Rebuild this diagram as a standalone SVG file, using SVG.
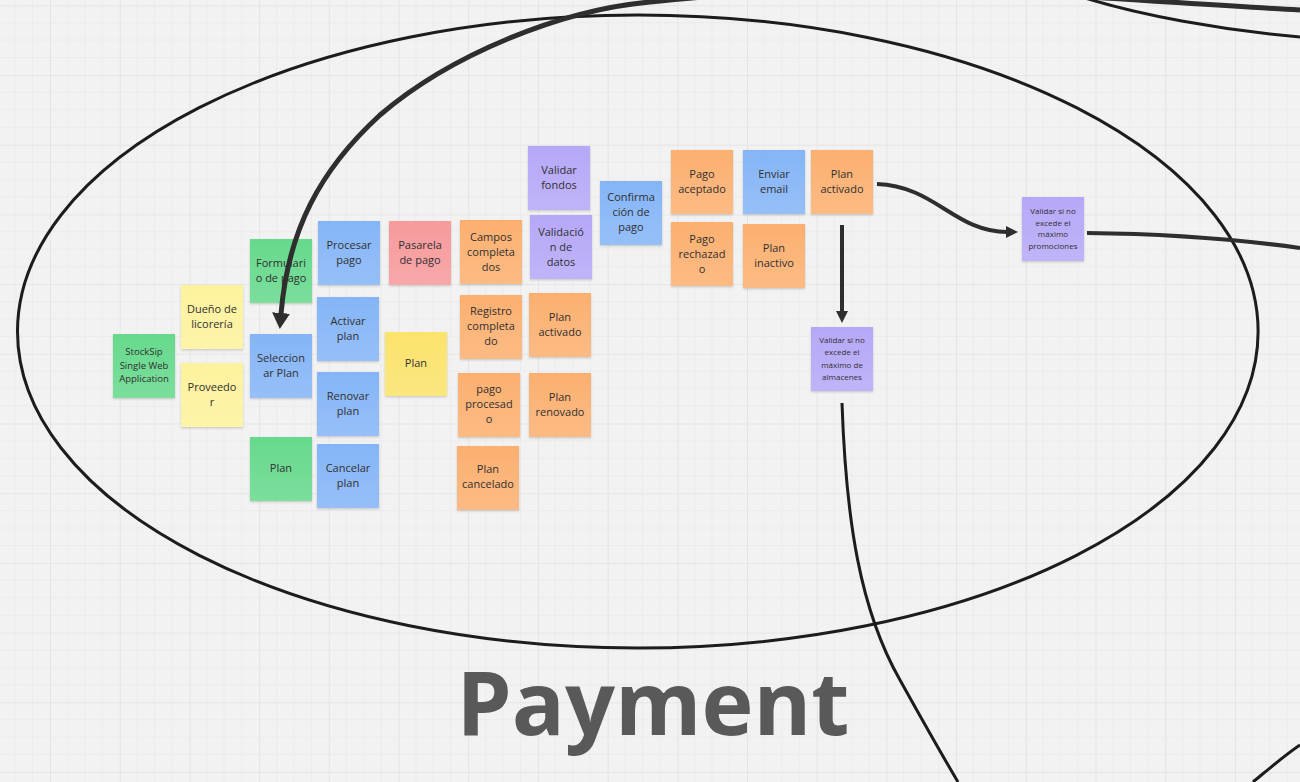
<svg xmlns="http://www.w3.org/2000/svg" width="1300" height="782" viewBox="0 0 1300 782">
<style>
.bg{fill:#f2f2f2}
.note{filter:url(#sh)}
.green{fill:#66d98c}
.yel{fill:#fdf29c}
.yel2{fill:#fbe36c}
.blue{fill:#85b5f7}
.pink{fill:#f79a9c}
.orange{fill:#fcb06f}
.purple{fill:#b6a8f8}
.sheen{fill:url(#sheen)}
.t{font-family:"Open Sans","Noto Sans","Liberation Sans",sans-serif;font-size:11px;fill:#303030;text-anchor:middle;dominant-baseline:central;transform:translateY(-1.5px)}
.m{font-size:9.5px}
.s{font-size:8px}
.ell{fill:none;stroke:#1c1c1c;stroke-width:3}
.c{fill:none;stroke:#2e2e2e;stroke-width:4}
.cL{fill:none;stroke:#2e2e2e;stroke-width:5}
.cT{fill:none;stroke:#1c1c1c;stroke-width:3}
.title{font-family:"Open Sans","Noto Sans","Liberation Sans",sans-serif;font-size:88px;font-weight:700;fill:#595959;text-anchor:middle}
</style>
<defs>
<pattern id="grid" patternUnits="userSpaceOnUse" x="50" y="5.3" width="69.7" height="69.7">
<path d="M17.425,0V69.7M34.85,0V69.7M52.275,0V69.7M0,17.425H69.7M0,34.85H69.7M0,52.275H69.7" stroke="#ebebeb" stroke-width="1" fill="none"/>
<path d="M0,0V69.7M0,0H69.7" stroke="#e2e2e2" stroke-width="1.6" fill="none"/>
</pattern>
<linearGradient id="sheen" x1="0" y1="0" x2="0" y2="1">
<stop offset="0" stop-color="#ffffff" stop-opacity="0"/>
<stop offset="1" stop-color="#ffffff" stop-opacity="0.14"/>
</linearGradient>
<filter id="sh" x="-10%" y="-10%" width="120%" height="125%">
<feDropShadow dx="0" dy="1.2" stdDeviation="0.9" flood-color="#000" flood-opacity="0.18"/>
</filter>
<marker id="ah" viewBox="0 0 12 12" refX="1" refY="6" markerWidth="12" markerHeight="12" markerUnits="userSpaceOnUse" orient="auto">
<path d="M0,0 L12,6 L0,12 z" fill="#2e2e2e"/>
</marker>
<marker id="ahL" viewBox="0 0 16 18" refX="1" refY="9" markerWidth="16" markerHeight="18" markerUnits="userSpaceOnUse" orient="auto">
<path d="M0,0 L16,9 L0,18 z" fill="#2e2e2e"/>
</marker>
</defs>
<rect class="bg" x="0" y="0" width="1300" height="782"/>
<rect x="0" y="0" width="1300" height="782" fill="url(#grid)"/>

<g id="frame">
<ellipse class="ell" cx="637.8" cy="331.5" rx="620.3" ry="316.5"/>
<text class="title" x="653" y="735">Payment</text>
</g>

<g id="n-stocksip"><rect class="note green" x="113" y="334" width="62" height="64"/><rect class="sheen" x="113" y="334" width="62" height="64"/>
<text class="t m"><tspan x="144" y="352.7">StockSip</tspan><tspan x="144" y="366">Single Web</tspan><tspan x="144" y="379.3">Application</tspan></text></g>

<g id="n-dueno"><rect class="note yel" x="181" y="285" width="62" height="64"/><rect class="sheen" x="181" y="285" width="62" height="64"/>
<text class="t"><tspan x="212" y="309.5">Dueño de</tspan><tspan x="212" y="324.5">licorería</tspan></text></g>

<g id="n-proveedor"><rect class="note yel" x="181" y="363" width="62" height="64"/><rect class="sheen" x="181" y="363" width="62" height="64"/>
<text class="t"><tspan x="212" y="387.5">Proveedo</tspan><tspan x="212" y="402.5">r</tspan></text></g>

<g id="n-formulario"><rect class="note green" x="250" y="239" width="62" height="64"/><rect class="sheen" x="250" y="239" width="62" height="64"/>
<text class="t"><tspan x="281" y="263.5">Formulari</tspan><tspan x="281" y="278.5">o de pago</tspan></text></g>

<g id="n-seleccionar"><rect class="note blue" x="250" y="334" width="62" height="64"/><rect class="sheen" x="250" y="334" width="62" height="64"/>
<text class="t"><tspan x="281" y="358.5">Seleccion</tspan><tspan x="281" y="373.5">ar Plan</tspan></text></g>

<g id="n-plan-green"><rect class="note green" x="250" y="437" width="62" height="64"/><rect class="sheen" x="250" y="437" width="62" height="64"/>
<text class="t" x="281" y="469">Plan</text></g>

<g id="n-procesar"><rect class="note blue" x="318" y="221" width="62" height="64"/><rect class="sheen" x="318" y="221" width="62" height="64"/>
<text class="t"><tspan x="349" y="245.5">Procesar</tspan><tspan x="349" y="260.5">pago</tspan></text></g>

<g id="n-activar"><rect class="note blue" x="317" y="297" width="62" height="64"/><rect class="sheen" x="317" y="297" width="62" height="64"/>
<text class="t"><tspan x="348" y="321.5">Activar</tspan><tspan x="348" y="336.5">plan</tspan></text></g>

<g id="n-renovar"><rect class="note blue" x="317" y="372" width="62" height="64"/><rect class="sheen" x="317" y="372" width="62" height="64"/>
<text class="t"><tspan x="348" y="396.5">Renovar</tspan><tspan x="348" y="411.5">plan</tspan></text></g>

<g id="n-cancelar"><rect class="note blue" x="317" y="444" width="62" height="64"/><rect class="sheen" x="317" y="444" width="62" height="64"/>
<text class="t"><tspan x="348" y="468.5">Cancelar</tspan><tspan x="348" y="483.5">plan</tspan></text></g>

<g id="n-pasarela"><rect class="note pink" x="389" y="221" width="62" height="64"/><rect class="sheen" x="389" y="221" width="62" height="64"/>
<text class="t"><tspan x="420" y="245.5">Pasarela</tspan><tspan x="420" y="260.5">de pago</tspan></text></g>

<g id="n-plan-yellow"><rect class="note yel2" x="385" y="332" width="62" height="64"/><rect class="sheen" x="385" y="332" width="62" height="64"/>
<text class="t" x="416" y="363.5">Plan</text></g>

<g id="n-campos"><rect class="note orange" x="460" y="220" width="62" height="64"/><rect class="sheen" x="460" y="220" width="62" height="64"/>
<text class="t"><tspan x="491" y="237">Campos</tspan><tspan x="491" y="252">completa</tspan><tspan x="491" y="267">dos</tspan></text></g>

<g id="n-registro"><rect class="note orange" x="460" y="295" width="62" height="64"/><rect class="sheen" x="460" y="295" width="62" height="64"/>
<text class="t"><tspan x="491" y="311.5">Registro</tspan><tspan x="491" y="326.5">completa</tspan><tspan x="491" y="341.5">do</tspan></text></g>

<g id="n-pago-procesado"><rect class="note orange" x="458" y="373" width="62" height="64"/><rect class="sheen" x="458" y="373" width="62" height="64"/>
<text class="t"><tspan x="489" y="389.5">pago</tspan><tspan x="489" y="404.5">procesad</tspan><tspan x="489" y="419.5">o</tspan></text></g>

<g id="n-plan-cancelado"><rect class="note orange" x="457" y="446" width="62" height="64"/><rect class="sheen" x="457" y="446" width="62" height="64"/>
<text class="t"><tspan x="488" y="469.5">Plan</tspan><tspan x="488" y="484.5">cancelado</tspan></text></g>

<g id="n-validar-fondos"><rect class="note purple" x="528" y="146" width="62" height="64"/><rect class="sheen" x="528" y="146" width="62" height="64"/>
<text class="t"><tspan x="559" y="170.5">Validar</tspan><tspan x="559" y="185">fondos</tspan></text></g>

<g id="n-validacion"><rect class="note purple" x="530" y="215" width="62" height="64"/><rect class="sheen" x="530" y="215" width="62" height="64"/>
<text class="t"><tspan x="561" y="232">Validació</tspan><tspan x="561" y="247">n de</tspan><tspan x="561" y="262">datos</tspan></text></g>

<g id="n-plan-activado-1"><rect class="note orange" x="529" y="293" width="62" height="64"/><rect class="sheen" x="529" y="293" width="62" height="64"/>
<text class="t"><tspan x="560" y="317">Plan</tspan><tspan x="560" y="332">activado</tspan></text></g>

<g id="n-plan-renovado"><rect class="note orange" x="529" y="373" width="62" height="64"/><rect class="sheen" x="529" y="373" width="62" height="64"/>
<text class="t"><tspan x="560" y="397">Plan</tspan><tspan x="560" y="412">renovado</tspan></text></g>

<g id="n-confirmacion"><rect class="note blue" x="600" y="181" width="62" height="64"/><rect class="sheen" x="600" y="181" width="62" height="64"/>
<text class="t"><tspan x="631" y="197.5">Confirma</tspan><tspan x="631" y="212.5">ción de</tspan><tspan x="631" y="227.5">pago</tspan></text></g>

<g id="n-pago-aceptado"><rect class="note orange" x="671" y="150" width="62" height="64"/><rect class="sheen" x="671" y="150" width="62" height="64"/>
<text class="t"><tspan x="702" y="174.5">Pago</tspan><tspan x="702" y="189.5">aceptado</tspan></text></g>

<g id="n-pago-rechazado"><rect class="note orange" x="671" y="222" width="62" height="64"/><rect class="sheen" x="671" y="222" width="62" height="64"/>
<text class="t"><tspan x="702" y="239">Pago</tspan><tspan x="702" y="254">rechazad</tspan><tspan x="702" y="269">o</tspan></text></g>

<g id="n-enviar-email"><rect class="note blue" x="743" y="150" width="62" height="64"/><rect class="sheen" x="743" y="150" width="62" height="64"/>
<text class="t"><tspan x="774" y="174.5">Enviar</tspan><tspan x="774" y="189.5">email</tspan></text></g>

<g id="n-plan-inactivo"><rect class="note orange" x="743" y="224" width="62" height="64"/><rect class="sheen" x="743" y="224" width="62" height="64"/>
<text class="t"><tspan x="774" y="248">Plan</tspan><tspan x="774" y="263">inactivo</tspan></text></g>

<g id="n-plan-activado-2"><rect class="note orange" x="811" y="150" width="62" height="64"/><rect class="sheen" x="811" y="150" width="62" height="64"/>
<text class="t"><tspan x="842" y="174">Plan</tspan><tspan x="842" y="189">activado</tspan></text></g>

<g id="n-validar-almacenes"><rect class="note purple" x="811" y="327" width="62" height="64"/><rect class="sheen" x="811" y="327" width="62" height="64"/>
<text class="t s"><tspan x="842" y="340.5">Validar si no</tspan><tspan x="842" y="352.8">excede el</tspan><tspan x="842" y="365.2">máximo de</tspan><tspan x="842" y="377.5">almacenes</tspan></text></g>

<g id="n-validar-promociones"><rect class="note purple" x="1022" y="197" width="62" height="64"/><rect class="sheen" x="1022" y="197" width="62" height="64"/>
<text class="t s"><tspan x="1053" y="211.7">Validar si no</tspan><tspan x="1053" y="223.2">excede el</tspan><tspan x="1053" y="234.8">máximo</tspan><tspan x="1053" y="246.3">promociones</tspan></text></g>

<g id="connectors">
<path class="cL" d="M1300,10 C1150,2 1000,-12 850,-10 C760,-9 700,-3 650,2 C560,10 450,55 380,115 C320,170 288,230 281,314" marker-end="url(#ahL)"/>
<path class="c" d="M877,184 C935,186 955,232 1007,232" marker-end="url(#ah)"/>
<path class="c" d="M842,225 L842,312" marker-end="url(#ah)"/>
<path class="c" d="M1087,233 C1180,234 1250,241 1300,248"/>
<path class="cT" d="M842,403 C846,520 860,610 900,680 C925,725 945,760 958,782"/>
<path class="cT" d="M1085,-2 C1140,15 1220,30 1300,37"/>
<path class="cT" d="M1253,782 C1270,768 1285,755 1300,745"/>
</g>
</svg>
